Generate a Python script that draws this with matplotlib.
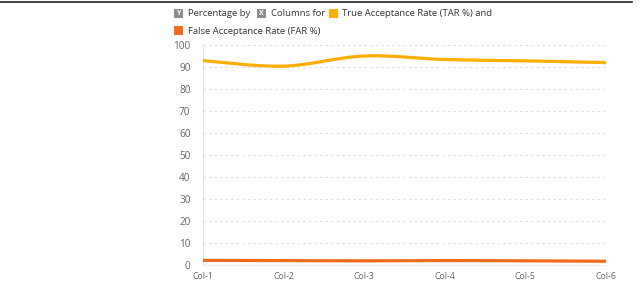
import matplotlib
matplotlib.use("Agg")
import matplotlib.pyplot as plt
import numpy as np
from matplotlib.path import Path
from matplotlib.patches import PathPatch, Rectangle
from matplotlib.lines import Line2D

plt.rcParams['font.family'] = ['Open Sans', 'DejaVu Sans']

# data
categories = ["Col-1", "Col-2", "Col-3", "Col-4", "Col-5", "Col-6"]
tar_values = [92.9, 90.4, 95.0, 93.4, 92.8, 92.0]
far_values = [2.1, 2.0, 1.9, 2.0, 1.9, 1.7]
y_ticks = [0, 10, 20, 30, 40, 50, 60, 70, 80, 90, 100]

TAR_COLOR = "#FFAE00"
FAR_COLOR = "#F26A1B"
TEXT_GRAY = "#666666"

W, H = 640, 282


def smooth_path(xs, ys, k=0.35):
    # bezier path through the points (catmull-rom style control points)
    xs = np.asarray(xs, float)
    ys = np.asarray(ys, float)
    verts = [(xs[0], ys[0])]
    codes = [Path.MOVETO]
    n = len(xs)
    for i in range(n - 1):
        x0, y0 = (xs[i - 1], ys[i - 1]) if i > 0 else (xs[i], ys[i])
        x1, y1 = xs[i], ys[i]
        x2, y2 = xs[i + 1], ys[i + 1]
        x3, y3 = (xs[i + 2], ys[i + 2]) if i + 2 < n else (x2, y2)
        c1 = (x1 + (x2 - x0) * k / 2, y1 + (y2 - y0) * k / 2)
        c2 = (x2 - (x3 - x1) * k / 2, y2 - (y3 - y1) * k / 2)
        verts += [c1, c2, (x2, y2)]
        codes += [Path.CURVE4] * 3
    return Path(verts, codes)


fig = plt.figure(figsize=(W / 100, H / 100), dpi=100)
ax = fig.add_axes([203 / W, (H - 265) / H, (606 - 203) / W, (265 - 45) / H])

x = np.arange(len(categories))
for vals, col in [(tar_values, TAR_COLOR), (far_values, FAR_COLOR)]:
    ax.add_patch(PathPatch(smooth_path(x, vals), facecolor="none",
                           edgecolor=col, lw=2.3, capstyle="round", zorder=3))

ax.set_xlim(0, len(categories) - 1)
ax.set_ylim(0, 100)
ax.set_yticks(y_ticks)
ax.set_xticks(x)
ax.set_xticklabels(categories)
ax.grid(axis="y", color="#dddddd", linestyle=(0, (2, 3)), lw=0.8)
ax.tick_params(axis="y", length=0, colors=TEXT_GRAY, labelsize=7.2, pad=9)
ax.tick_params(axis="x", length=0, colors=TEXT_GRAY, labelsize=6.3, pad=5)
for s in ["top", "right"]:
    ax.spines[s].set_visible(False)
ax.spines["left"].set_color("#e6e6e6")
ax.spines["bottom"].set_color("#eeeeee")
for lab in ax.get_xticklabels():
    lab.set_ha("center")

# legend drawn by hand
def fx(px):
    return px / W


def fy(py):
    return 1 - py / H


def icon(px, py, color, letter=None):
    fig.add_artist(Rectangle((fx(px), fy(py + 9)), 9 / W, 9 / H,
                             transform=fig.transFigure, color=color, lw=0))
    if letter:
        fig.text(fx(px + 4.5), fy(py + 4.8), letter, color="white", fontsize=5,
                 fontweight="bold", ha="center", va="center")


icon(174, 9, "#8c8c8c", "Y")
fig.text(fx(188), fy(14), "Percentage by", fontsize=6.8, color="#333333", va="center")
icon(257, 9, "#8c8c8c", "X")
fig.text(fx(271), fy(14), "Columns for", fontsize=6.8, color="#333333", va="center")
icon(329, 9, TAR_COLOR)
fig.text(fx(342), fy(14), "True Acceptance Rate (TAR %) and", fontsize=6.8,
         color="#333333", va="center")
icon(174, 26, FAR_COLOR)
fig.text(fx(188), fy(31), "False Acceptance Rate (FAR %)", fontsize=6.8,
         color="#333333", va="center")

fig.add_artist(Line2D([0, 632 / W], [fy(1.5), fy(1.5)], color="#222222", lw=1.2))

fig.savefig("out.png", dpi=100)
